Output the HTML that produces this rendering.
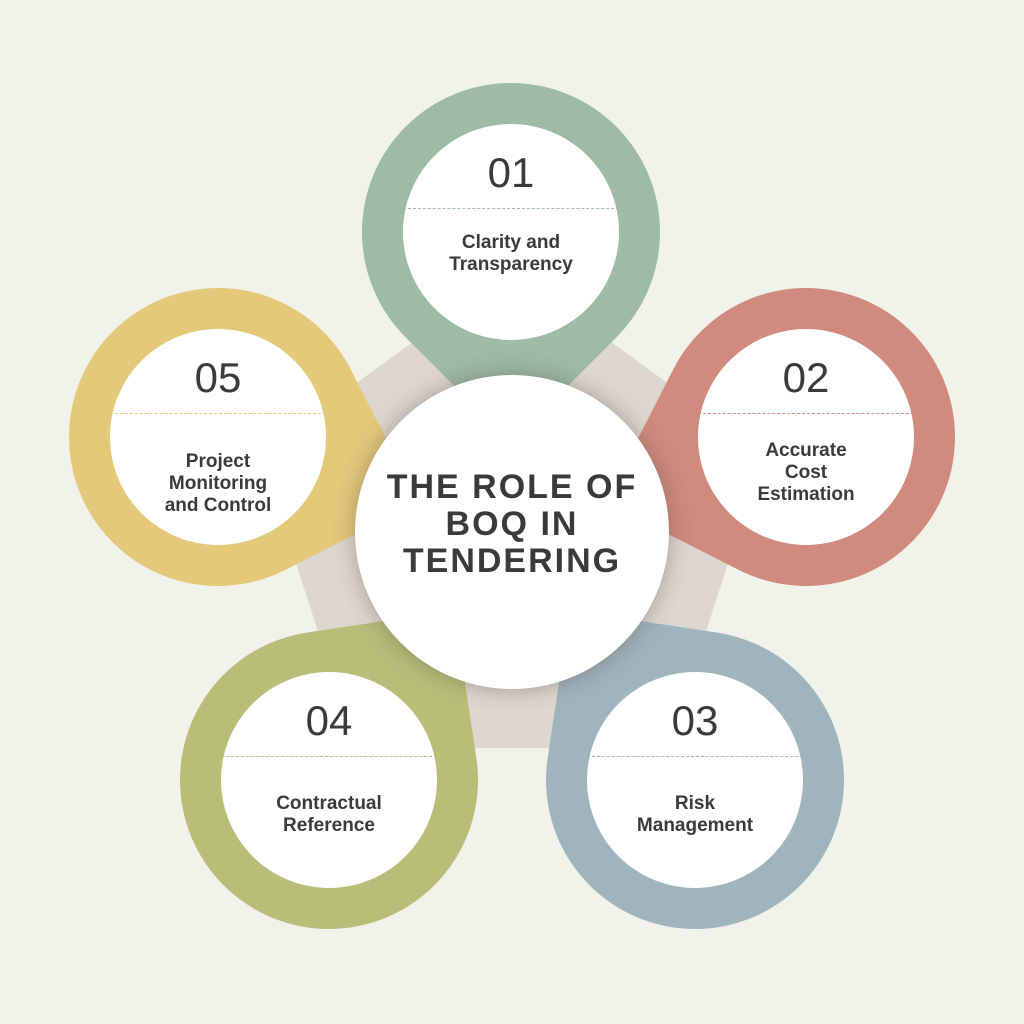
<!DOCTYPE html>
<html><head><style>
body{margin:0;width:1024px;height:1024px;background:#f1f2ea;position:relative;overflow:hidden;font-family:"Liberation Sans",sans-serif;color:#3a3a3a}
.tear{position:absolute;width:298px;height:298px;border-radius:50% 50% 0 50%;}
.inner{position:absolute;width:216px;height:216px;border-radius:50%;background:#fff;overflow:hidden}
.num{position:absolute;left:0;right:0;top:25px;text-align:center;font-size:42px}
.dash{position:absolute;left:0;right:0;top:84px;border-top:1.5px dashed}
.lab{position:absolute;left:0;right:0;text-align:center;font-weight:bold;font-size:19px;line-height:22px}
.center{position:absolute;left:355px;top:375px;width:314px;height:314px;border-radius:50%;background:#fff;box-shadow:0 0 22px rgba(90,80,70,0.45)}
.title{position:absolute;left:0;right:0;top:94px;text-align:center;font-weight:bold;font-size:34px;line-height:37px;letter-spacing:2px;color:#3a3a3a}
</style></head><body>
<svg width="1024" height="1024" style="position:absolute;left:0;top:0">
<polygon points="512,270 764,453 668,748 356,748 260,453" fill="#ddd7cf"/>
</svg>
<div class="tear" style="left:362px;top:83px;background:#9dbba5;transform:rotate(45deg)"></div>
<div class="tear" style="left:657px;top:288px;background:#d08a7e;transform:rotate(117deg)"></div>
<div class="tear" style="left:69px;top:288px;background:#e4c97a;transform:rotate(-27deg)"></div>
<div class="tear" style="left:180px;top:631px;background:#b8bd78;transform:rotate(-98.6deg)"></div>
<div class="tear" style="left:546px;top:631px;background:#9fb4bd;transform:rotate(-171.4deg)"></div>

<div class="inner" style="left:403px;top:124px"><div class="num">01</div><div class="dash" style="border-color:#9dbba5"></div><div class="lab" style="top:108px">Clarity and<br>Transparency</div></div>
<div class="inner" style="left:698px;top:329px"><div class="num">02</div><div class="dash" style="border-color:#d08a7e"></div><div class="lab" style="top:111px">Accurate<br>Cost<br>Estimation</div></div>
<div class="inner" style="left:110px;top:329px"><div class="num">05</div><div class="dash" style="border-color:#e4c97a"></div><div class="lab" style="top:122px">Project<br>Monitoring<br>and Control</div></div>
<div class="inner" style="left:221px;top:672px"><div class="num">04</div><div class="dash" style="border-color:#b8bd78"></div><div class="lab" style="top:121px">Contractual<br>Reference</div></div>
<div class="inner" style="left:587px;top:672px"><div class="num">03</div><div class="dash" style="border-color:#9fb4bd"></div><div class="lab" style="top:121px">Risk<br>Management</div></div>

<div class="center"><div class="title">THE ROLE OF<br>BOQ IN<br>TENDERING</div></div>
</body></html>
